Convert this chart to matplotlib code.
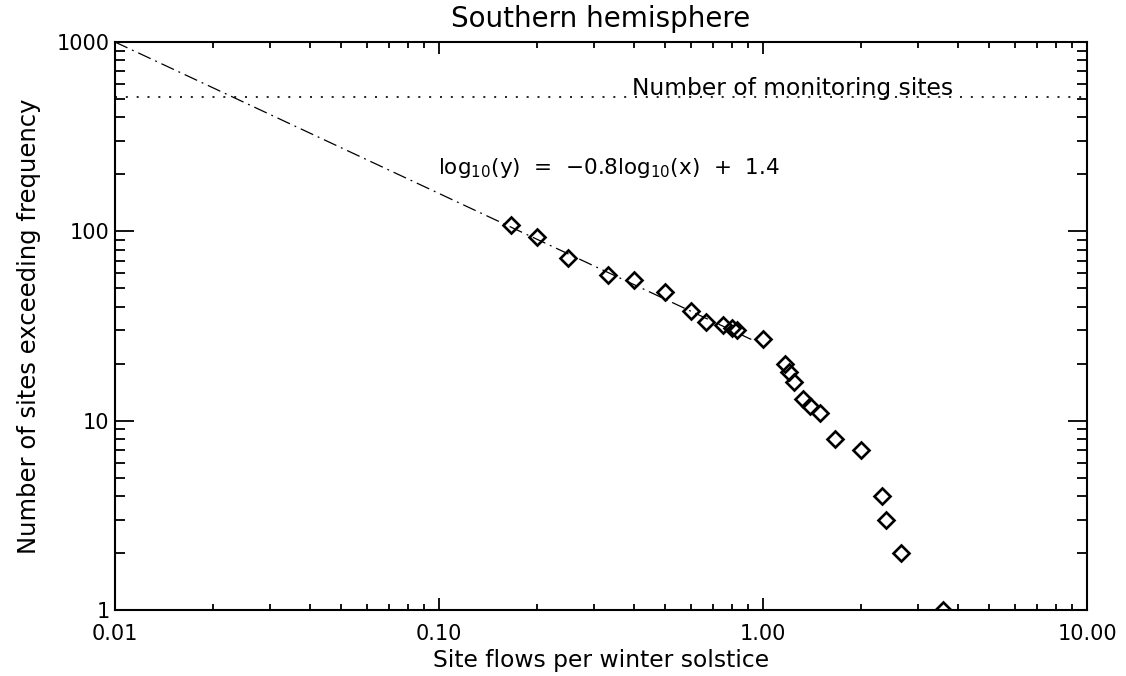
import numpy as np
import matplotlib
matplotlib.use('Agg')
import matplotlib.pyplot as plt
from matplotlib.ticker import FixedLocator, LogLocator, NullFormatter

# site flows per winter solstice and number of sites exceeding that value
flows = [0.1667, 0.2, 0.25, 0.3333, 0.4, 0.5, 0.6, 0.6667, 0.75, 0.8, 0.8333,
         1.0, 1.1667, 1.2, 1.25, 1.3333, 1.4, 1.5, 1.6667, 2.0, 2.3333, 2.4,
         2.6667, 3.6]
sites = [108, 93, 72, 59, 55, 48, 38, 33, 32, 31, 30,
         27, 20, 18, 16, 13, 12, 11, 8, 7, 4, 3, 2, 1]

n_monitoring = 515
fit_slope = -0.8
fit_intercept = 1.4
fit_range = [0.01, 0.92]

xticks = [0.01, 0.1, 1.0, 10.0]
xticklabels = ['0.01', '0.10', '1.00', '10.00']
yticks = [1, 10, 100, 1000]
yticklabels = ['1', '10', '100', '1000']

plt.rcParams['font.family'] = ['DejaVu Sans']
plt.rcParams['mathtext.default'] = 'regular'

fig = plt.figure(figsize=(11.26, 6.76), dpi=100)
ax = fig.add_axes([115 / 1126, 1 - 610 / 676, 972 / 1126, 568 / 676])

xf = np.logspace(np.log10(fit_range[0]), np.log10(fit_range[1]), 50)
yf = 10 ** (fit_slope * np.log10(xf) + fit_intercept)
ax.plot(xf, yf, color='black', lw=0.9, linestyle=(0, (11, 4, 1.5, 4)))

ax.axhline(n_monitoring, color='black', lw=1.2, linestyle=(0, (1.2, 5.3)))
ax.text(0.394, n_monitoring * 1.02, 'Number of monitoring sites',
        ha='left', va='baseline', fontsize=16.8)

ax.plot(flows, sites, linestyle='none', marker='D', markersize=8.5,
        markerfacecolor='none', markeredgecolor='black', markeredgewidth=1.9)

ax.text(0.0993, 216, r'log$_{10}$(y)  =  $-$0.8log$_{10}$(x)  +  1.4',
        ha='left', va='center', fontsize=15.5)

ax.set_xscale('log')
ax.set_yscale('log')
ax.set_xlim(0.01, 10)
ax.set_ylim(1, 1000)

ax.xaxis.set_major_locator(FixedLocator(xticks))
ax.set_xticklabels(xticklabels)
ax.yaxis.set_major_locator(FixedLocator(yticks))
ax.set_yticklabels(yticklabels)
ax.xaxis.set_minor_locator(LogLocator(base=10, subs=np.arange(2, 10)))
ax.yaxis.set_minor_locator(LogLocator(base=10, subs=np.arange(2, 10)))
ax.xaxis.set_minor_formatter(NullFormatter())
ax.yaxis.set_minor_formatter(NullFormatter())

ax.tick_params(axis='both', which='both', direction='in', top=True, right=True,
               labelsize=15, width=1.3, colors='black')
ax.tick_params(axis='x', which='major', length=8.6, pad=10)
ax.tick_params(axis='x', which='minor', length=4.3)
ax.tick_params(axis='y', which='major', length=14, pad=4)
ax.tick_params(axis='y', which='minor', length=7)
for s in ax.spines.values():
    s.set_linewidth(1.5)

ax.set_title('Southern hemisphere', fontsize=20, pad=11)
ax.set_xlabel('Site flows per winter solstice', fontsize=16.8, labelpad=4)
ax.set_ylabel('Number of sites exceeding frequency', fontsize=17.5, labelpad=11)

fig.savefig('out.png', dpi=100)
